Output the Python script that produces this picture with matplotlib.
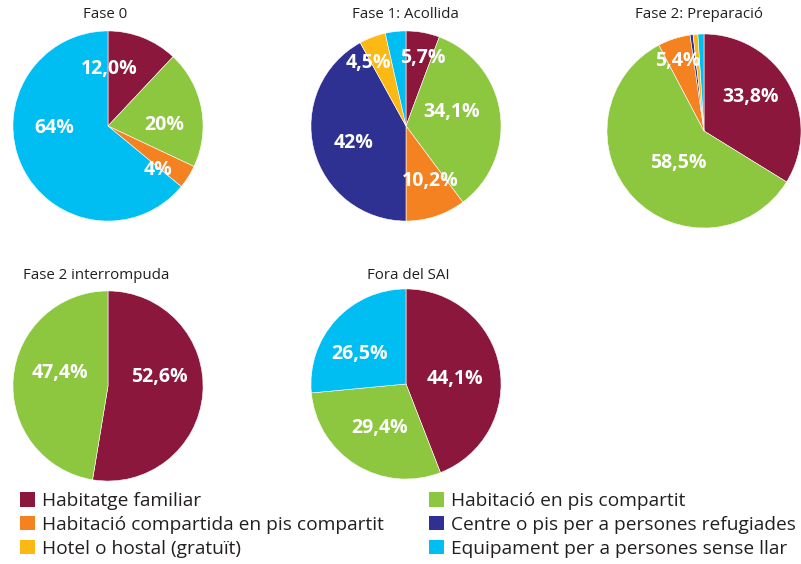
import matplotlib.pyplot as plt
from matplotlib.patches import Patch

plt.rcParams['font.family'] = ['Open Sans', 'DejaVu Sans']

categories = ["Habitatge familiar", "Habitació en pis compartit",
              "Habitació compartida en pis compartit", "Centre o pis per a persones refugiades",
              "Hotel o hostal (gratuït)", "Equipament per a persones sense llar"]
colors = ["#8B173D", "#8DC63F", "#F58220", "#2E3192", "#FDB913", "#00BDF2"]

titles = ["Fase 0", "Fase 1: Acollida", "Fase 2: Preparació", "Fase 2 interrompuda", "Fora del SAI"]
# values in category order (0 = absent)
fase0 = [12.0, 20, 4, 0, 0, 64]
fase1 = [5.7, 34.1, 10.2, 42, 4.5, 3.5]
fase2 = [33.8, 58.5, 5.4, 0.5, 0.8, 1.0]
fase2_int = [52.6, 47.4, 0, 0, 0, 0]
fora = [44.1, 29.4, 0, 0, 0, 26.5]
series = [fase0, fase1, fase2, fase2_int, fora]

# label text per slice (None = not shown)
labels = [
    ["12,0%", "20%", "4%", None, None, "64%"],
    ["5,7%", "34,1%", "10,2%", "42%", "4,5%", None],
    ["33,8%", "58,5%", "5,4%", None, None, None],
    ["52,6%", "47,4%", None, None, None, None],
    ["44,1%", "29,4%", None, None, None, "26,5%"],
]
# label placement in units of pie radius
label_pos = [
    [(0.01, 0.60), (0.59, 0.01), (0.53, -0.46), None, None, (-0.57, -0.02)],
    [(0.18, 0.72), (0.48, 0.15), (0.25, -0.58), (-0.55, -0.18), (-0.40, 0.66), None],
    [(0.48, 0.35), (-0.26, -0.33), (-0.27, 0.72), None, None, None],
    [(0.54, 0.09), (-0.51, 0.14), None, None, None, None],
    [(0.51, 0.05), (-0.28, -0.46), None, None, None, (-0.49, 0.32)],
]

W, H = 801, 564
# pie centres and radius in pixels, title positions
centres = [(108, 126, 96), (406, 126, 96), (704, 131, 98), (108, 386, 96), (406, 384, 96)]
title_xy = [(105, 15), (405, 15), (699, 15), (96, 276), (408, 276)]

fig = plt.figure(figsize=(W / 100, H / 100), dpi=100)

for i, vals in enumerate(series):
    cx, cy, r = centres[i]
    ax = fig.add_axes([(cx - r) / W, 1 - (cy + r) / H, 2 * r / W, 2 * r / H])
    idx = [k for k, v in enumerate(vals) if v > 0]
    ax.pie([vals[k] for k in idx], colors=[colors[k] for k in idx],
           startangle=90, counterclock=False, radius=1,
           wedgeprops=dict(edgecolor='white', linewidth=0.4))
    ax.set_xlim(-1.01, 1.01)
    ax.set_ylim(-1.01, 1.01)
    ax.set_aspect('auto')
    ax.axis('off')
    for k in idx:
        if labels[i][k]:
            x, y = label_pos[i][k]
            ax.text(x, y, labels[i][k], color='white', fontsize=14, fontweight='bold',
                    ha='center', va='center')
    tx, ty = title_xy[i]
    fig.text(tx / W, 1 - ty / H, titles[i], ha='center', va='center',
             fontsize=10.8, color='#231F20')

order = [0, 2, 4, 1, 3, 5]
handles = [Patch(facecolor=colors[k], edgecolor='none') for k in order]
fig.legend(handles, [categories[k] for k in order], ncol=2, loc='upper left',
           bbox_to_anchor=(20 / W, 1 - 492 / H), frameon=False, fontsize=13.8,
           handlelength=0.78, handleheight=0.78, handletextpad=0.36,
           labelspacing=0.3, columnspacing=2.35, borderaxespad=0, borderpad=0,
           labelcolor='#231F20')

fig.savefig("out.png", dpi=100)
